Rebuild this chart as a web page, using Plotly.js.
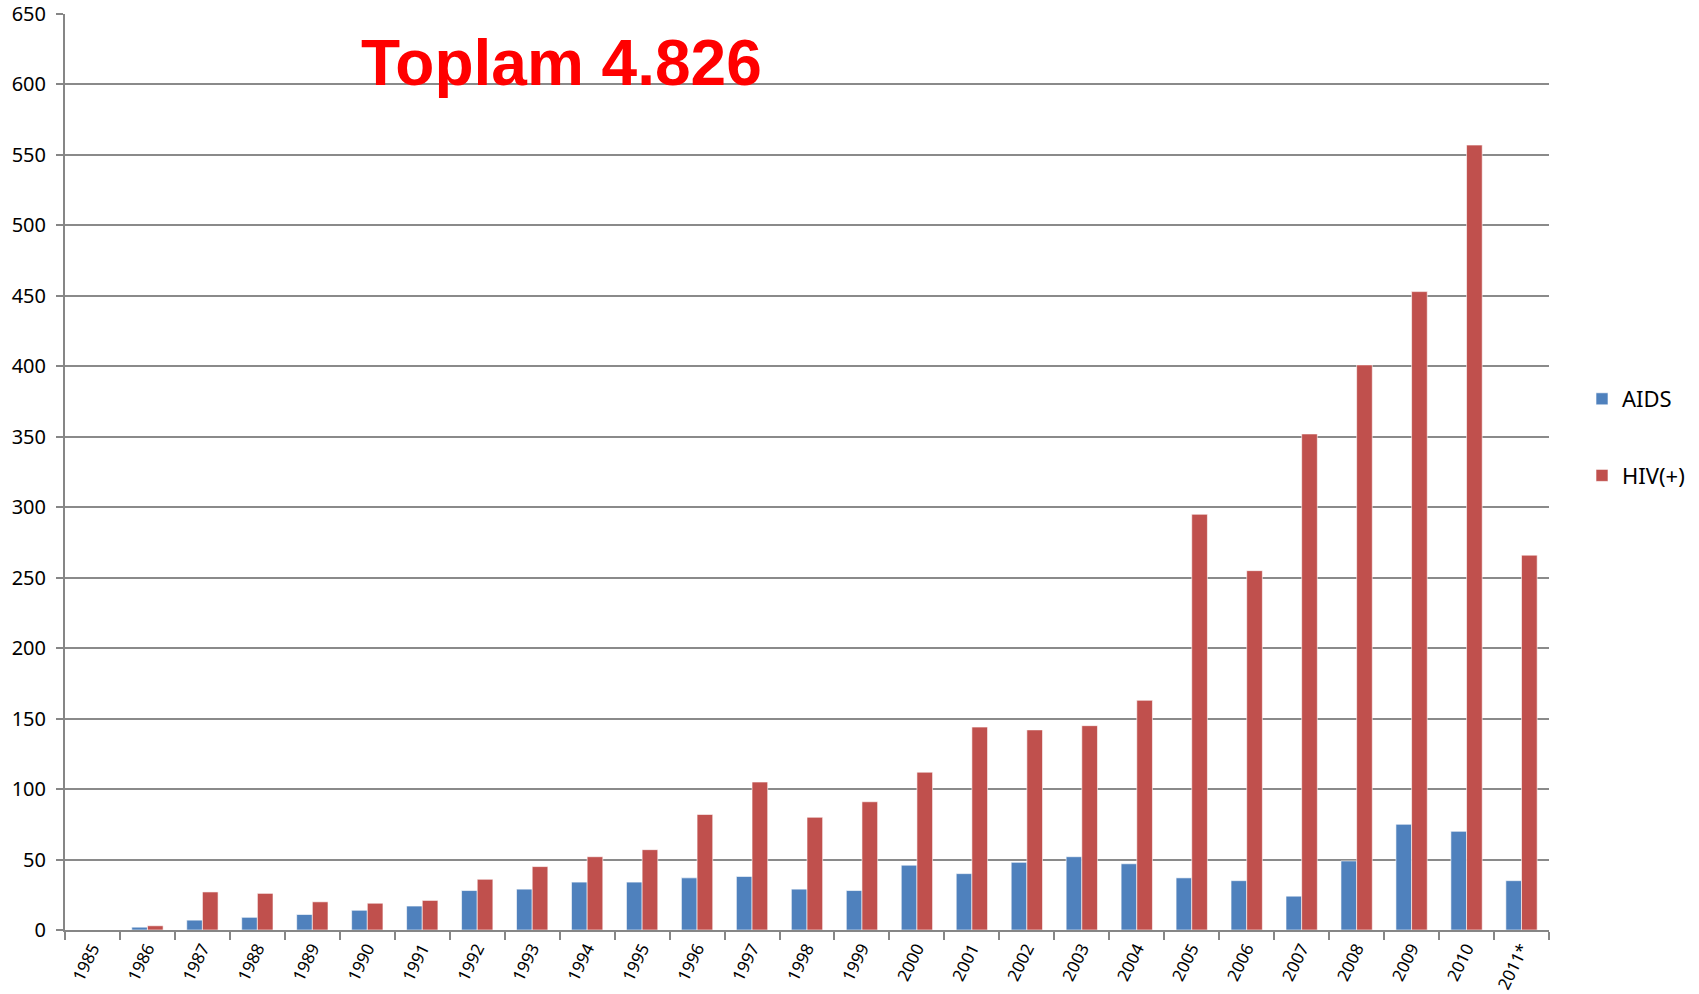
<!DOCTYPE html>
<html>
<head>
<meta charset="utf-8">
<script src="https://cdn.plot.ly/plotly-3.0.1.min.js"></script>
<style>html,body{margin:0;padding:0;background:#fff;}#chart{width:1699px;height:994px;}</style>
</head>
<body>
<div id="chart"></div>
<script>
const years = ["1985","1986","1987","1988","1989","1990","1991","1992","1993","1994","1995","1996","1997","1998","1999","2000","2001","2002","2003","2004","2005","2006","2007","2008","2009","2010","2011*"];
const aids = [0,2,7,9,11,14,17,28,29,34,34,37,38,29,28,46,40,48,52,47,37,35,24,49,75,70,35];
const hiv = [0,3,27,26,20,19,21,36,45,52,57,82,105,80,91,112,144,142,145,163,295,255,352,401,453,557,266];
const titleText = "Toplam 4.826";

const font = "'Noto Sans', 'Open Sans', sans-serif";

const traces = [
  {type:'bar', name:'AIDS', x:years, y:aids, legendgroup:'a',
   marker:{color:'#4F81BD', line:{color:'rgba(255,255,255,0.6)', width:1}}},
  {type:'bar', name:'HIV(+)', x:years, y:hiv, legendgroup:'b',
   marker:{color:'#C0504D', line:{color:'rgba(255,255,255,0.6)', width:1}}}
];

const layout = {
  width:1699, height:994,
  margin:{l:65, r:150, t:14, b:64, pad:0, autoexpand:false},
  paper_bgcolor:'#fff', plot_bgcolor:'#fff',
  barmode:'group', bargap:0.43, bargroupgap:0,
  showlegend:true,
  legend:{xref:'container', yref:'container', x:1582/1699, y:1-378/994, xanchor:'left', yanchor:'top',
          font:{family:font, size:22, color:'#000'},
          tracegroupgap:45, traceorder:'grouped', itemwidth:30},
  xaxis:{type:'category', showline:true, linecolor:'#868686', linewidth:2, showgrid:false,
         ticks:'outside', ticklen:8, tickcolor:'#868686', tickwidth:2, tickson:'boundaries',
         tickangle:-64, tickfont:{family:font, size:17, color:'#000'}, automargin:false},
  yaxis:{range:[0,650], dtick:50, showline:true, linecolor:'#868686', linewidth:2,
         showgrid:true, gridcolor:'#8a8a8a', gridwidth:2, zeroline:false,
         ticks:'outside', ticklen:7, tickcolor:'#868686', tickwidth:2, ticklabelstandoff:6,
         tickfont:{family:font, size:20, color:'#000'}, automargin:false},
  annotations:[{text:'<b>'+titleText+'</b>', xref:'paper', yref:'paper', x:(561-65)/1484, y:1-(63-14)/916,
    xanchor:'center', yanchor:'middle', showarrow:false,
    font:{family:"'Liberation Sans', Arial, sans-serif", size:64, color:'#FF0000'}}]
};

Plotly.newPlot('chart', traces, layout, {displayModeBar:false, staticPlot:true});
</script>
</body>
</html>
